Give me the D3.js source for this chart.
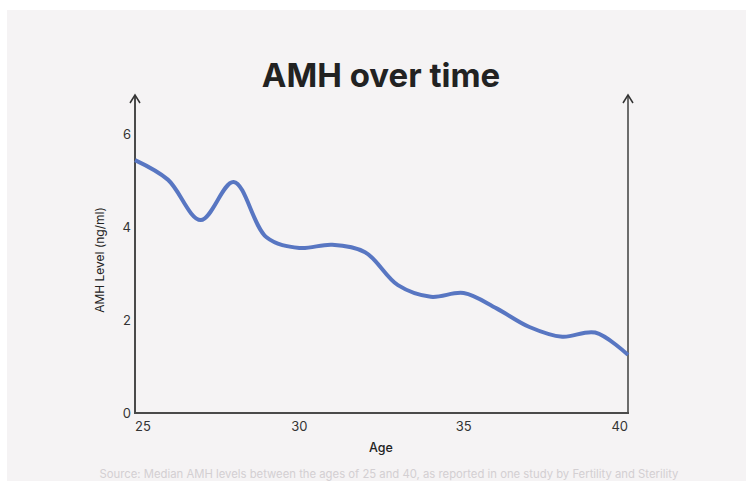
<!DOCTYPE html>
<html>
<head>
<meta charset="utf-8">
<script src="https://cdn.jsdelivr.net/npm/d3@7"></script>
<style>
  html, body { margin: 0; padding: 0; background: #ffffff; }
  svg { display: block; font-family: Inter, "Noto Sans", sans-serif; }
</style>
</head>
<body>
<svg id="chart" width="746" height="481"></svg>
<script>
// Median AMH level (ng/ml) by age
const ages = [25, 26, 27, 28, 29, 30, 31, 32, 33, 34, 35, 36, 37, 38, 39, 40];
const amh  = [5.44, 5.02, 4.15, 4.97, 3.78, 3.55, 3.62, 3.46, 2.75, 2.5, 2.58, 2.25, 1.85, 1.64, 1.73, 1.25];
const xTicks = [25, 30, 35, 40];
const yTicks = [0, 2, 4, 6];

const title = "AMH over time";
const xLabel = "Age";
const yLabel = "AMH Level (ng/ml)";
const source = "Source: Median AMH levels between the ages of 25 and 40, as reported in one study by Fertility and Sterility";

const svg = d3.select("#chart");

// panel background
svg.append("rect")
  .attr("x", 7).attr("y", 10)
  .attr("width", 739).attr("height", 471)
  .attr("fill", "#f5f3f4");

const x = d3.scaleLinear().domain([25, 40]).range([135, 628]);
const y = d3.scaleLinear().domain([0, 6.84]).range([413, 95]);

const axisColor = "#4a4a4a";

// title
svg.append("text")
  .attr("x", 381).attr("y", 87)
  .attr("text-anchor", "middle")
  .attr("font-size", 33)
  .attr("font-weight", 700)
  .attr("fill", "#222")
  .text(title);

// axis lines with arrow tips
const g = svg.append("g");
const yTop = y.range()[1];
g.append("line")
  .attr("x1", x(25)).attr("x2", x(25))
  .attr("y1", y(0)).attr("y2", yTop)
  .attr("stroke", axisColor).attr("stroke-width", 2);
g.append("line")
  .attr("x1", x(40)).attr("x2", x(40))
  .attr("y1", y(0)).attr("y2", yTop)
  .attr("stroke", axisColor).attr("stroke-width", 1.6);
g.append("line")
  .attr("x1", x(25) - 1).attr("x2", x(40) + 1)
  .attr("y1", y(0)).attr("y2", y(0))
  .attr("stroke", axisColor).attr("stroke-width", 2);

[25, 40].forEach(a => {
  const cx = x(a);
  g.append("path")
    .attr("d", `M${cx - 5},${yTop + 8} L${cx},${yTop} L${cx + 5},${yTop + 8}`)
    .attr("fill", "none")
    .attr("stroke", "#333")
    .attr("stroke-width", 1.5);
});

// x tick labels
svg.append("g").selectAll("text")
  .data(xTicks)
  .join("text")
  .attr("x", d => x(d))
  .attr("y", 431)
  .attr("text-anchor", (d, i) => i === 0 ? "start" : (i === xTicks.length - 1 ? "end" : "middle"))
  .attr("font-size", 13)
  .attr("fill", "#333")
  .text(d => d);

// y tick labels
svg.append("g").selectAll("text")
  .data(yTicks)
  .join("text")
  .attr("x", 131)
  .attr("y", d => y(d))
  .attr("dy", "0.35em")
  .attr("text-anchor", "end")
  .attr("font-size", 13)
  .attr("fill", "#333")
  .text(d => d);

// axis titles
svg.append("text")
  .attr("x", 381).attr("y", 452)
  .attr("text-anchor", "middle")
  .attr("font-size", 12.5)
  .attr("font-weight", 500)
  .attr("fill", "#222")
  .text(xLabel);

svg.append("text")
  .attr("transform", "translate(104,260) rotate(-90)")
  .attr("text-anchor", "middle")
  .attr("font-size", 12)
  .attr("font-weight", 400)
  .attr("fill", "#222")
  .text(yLabel);

// data line
const line = d3.line()
  .x((d, i) => x(ages[i]))
  .y(d => y(d))
  .curve(d3.curveCatmullRom.alpha(0.5));

svg.append("path")
  .datum(amh)
  .attr("d", line)
  .attr("fill", "none")
  .attr("stroke", "#5876c2")
  .attr("stroke-width", 4)
  .attr("stroke-linejoin", "round");

// source note
svg.append("text")
  .attr("x", 389).attr("y", 478)
  .attr("text-anchor", "middle")
  .attr("font-size", 11.3)
  .attr("fill", "#d3cfd2")
  .text(source);
</script>
</body>
</html>
